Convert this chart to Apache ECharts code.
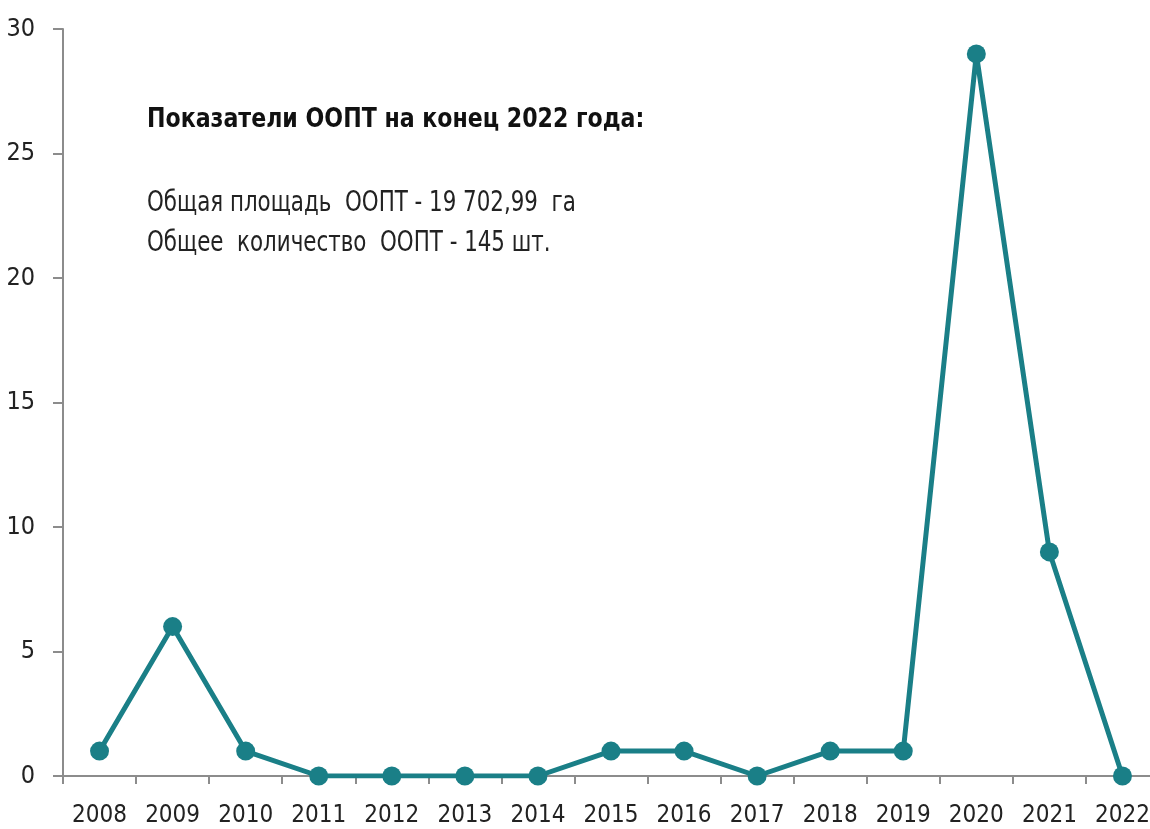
<!DOCTYPE html>
<html><head><meta charset="utf-8">
<script src="https://cdn.jsdelivr.net/npm/echarts@6/dist/echarts.min.js"></script>
<style>html,body{margin:0;padding:0;background:#fff}#c{width:1150px;height:829px}</style>
</head><body><div id="c"></div>
<script>
const years = ['2008','2009','2010','2011','2012','2013','2014','2015','2016','2017','2018','2019','2020','2021','2022'];
const counts = [1,6,1,0,0,0,0,1,1,0,1,1,29,9,0];
const titleText = 'Показатели ООПТ на конец 2022 года:';
const infoLines = ['Общая площадь  ООПТ - 19 702,99  га','Общее  количество  ООПТ - 145 шт.'];
const FONT = '"DejaVu Sans Condensed","Liberation Sans Narrow",sans-serif';
const chart = echarts.init(document.getElementById('c'));
chart.setOption({
  animation:false,
  grid:{left:63, top:29, width:1096, height:747, containLabel:false, outerBoundsMode:'none'},
  graphic:[
    {type:'text', x:147, y:106, scaleX:0.91, style:{text:titleText, font:'bold 27px '+FONT, fill:'#111'}},
    {type:'text', x:147, y:183, scaleX:0.82, style:{text:infoLines.join('\n'), font:'29px '+FONT, fill:'#222', lineHeight:40}}
  ],
  xAxis:{type:'category', data:years, boundaryGap:true,
    axisLine:{lineStyle:{color:'#8c8c8c', width:2}},
    axisTick:{show:true, interval:0, length:8, lineStyle:{color:'#8c8c8c', width:2}},
    axisLabel:{interval:0, color:'#222', fontSize:24, fontFamily:FONT, margin:28}
  },
  yAxis:{type:'value', min:0, max:30, interval:5,
    axisLine:{show:true, lineStyle:{color:'#8c8c8c', width:2}},
    axisTick:{show:true, length:10, lineStyle:{color:'#8c8c8c', width:2}},
    splitLine:{show:false},
    axisLabel:{color:'#222', fontSize:25, fontFamily:FONT, margin:28}
  },
  series:[{type:'line', data:counts, symbol:'circle', symbolSize:19,
    lineStyle:{color:'#1a7f87', width:5}, itemStyle:{color:'#1a7f87'}}]
});
</script></body></html>
